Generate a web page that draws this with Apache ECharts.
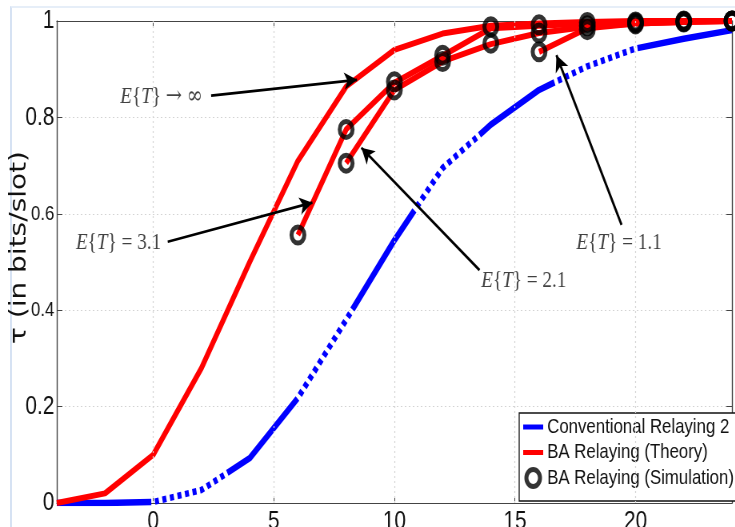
<!DOCTYPE html>
<html>
<head>
<meta charset="utf-8">
<script src="https://cdn.jsdelivr.net/npm/echarts@6/dist/echarts.min.js"></script>
<style>
  html, body { margin: 0; padding: 0; background: #fff; overflow: hidden; }
  #frame { position: absolute; left: 10px; top: 6px; width: 740px; height: 530px;
           border-left: 2px solid #d6e2f3; border-top: 2px solid #e6eef8; }
  #chart { position: absolute; left: 0; top: 0; width: 919px; height: 527px;
           transform: scaleX(0.8); transform-origin: 0 0; }
</style>
</head>
<body>
<div id="frame"></div>
<div id="chart"></div>
<script>
// ---------------- data ----------------
const snr = [-4, -2, 0, 2, 4, 6, 8, 10, 12, 14, 16, 18, 20, 22, 24];
const conventional = [0, 0, 0.002, 0.027, 0.093, 0.218, 0.38, 0.545, 0.695, 0.785, 0.857, 0.906, 0.943, 0.963, 0.981];
const baInfTheory = [0, 0.02, 0.10, 0.28, 0.50, 0.71, 0.864, 0.94, 0.974, 0.99, 0.995, 0.998, 1, 1, 1];

const ba31X = [6, 8, 10, 12, 14, 16, 18, 20, 22, 24];
const ba31Theory = [0.556, 0.775, 0.872, 0.928, 0.985, 0.99, 0.995, 0.998, 1, 1];
const ba31Sim = [0.556, 0.775, 0.874, 0.929, 0.988, 0.992, 0.997, 0.998, 1, 1];

const ba21X = [8, 10, 12, 14, 16, 18, 20, 22, 24];
const ba21Theory = [0.705, 0.857, 0.916, 0.952, 0.975, 0.988, 0.995, 0.998, 1];
const ba21Sim = [0.705, 0.857, 0.916, 0.954, 0.975, 0.99, 0.996, 0.999, 1];

const ba11X = [16, 18, 20, 22, 24];
const ba11Theory = [0.936, 0.985, 0.995, 0.998, 1];
const ba11Sim = [0.936, 0.982, 0.994, 0.998, 1];

const xTickValues = [0, 5, 10, 15, 20];
const yTicksBesideTitle = [0.4, 0.6];   // tick labels drawn smaller, next to the axis title

const seriesNames = ['Conventional Relaying 2', 'BA Relaying (Theory)', 'BA Relaying (Simulation)'];
const yAxisName = 'τ (in bits/slot)';

// annotations: label text, label anchor, arrow start, arrow tip (data coords)
const annLabels = ['{i|E}{{i|T}} {a|→} {a|∞}', '{i|E}{{i|T}} = 3.1', '{i|E}{{i|T}} = 2.1', '{i|E}{{i|T}} = 1.1'];
const annSide = ['left', 'left', 'right', 'right'];
const annAnchor = [[2.05, 0.842], [0.33, 0.54], [13.6, 0.462], [17.55, 0.541]];
const annFrom = [[2.4, 0.845], [0.6, 0.542], [13.53, 0.483], [19.42, 0.577]];
const annTo = [[8.45, 0.878], [6.6, 0.623], [8.63, 0.737], [16.72, 0.929]];

// style: x positions where the blue line switches between solid and square-dotted
const blueStyleBreaks = [-0.08, 3.07, 5.98, 8.26, 10.83, 13.53, 16.64, 20.08];

// ---------------- helpers ----------------
const pairs = (xs, ys) => xs.map((x, i) => [x, ys[i]]);

const RED = '#ff0000';
const BLUE = '#0000ff';
const sans = "'Liberation Sans', Arial, sans-serif";
const serif = "'Liberation Serif', 'Times New Roman', serif";
const linePath = 'path://M0,0h25v5h-25z';

const redLine = (data) => ({
  name: seriesNames[1], type: 'line', data, symbol: 'none', z: 3,
  lineStyle: { color: RED, width: 6 }, itemStyle: { color: RED }
});

const simStyle = { color: 'rgba(0,0,0,0)', borderColor: '#000', borderWidth: 5 };

const yLabelFmt = (v) => {
  const s = String(Math.round(v * 10) / 10);
  return yTicksBesideTitle.some(t => Math.abs(t - v) < 1e-9) ? '{n|' + s + '}' : s;
};

const chart = echarts.init(document.getElementById('chart'));
chart.setOption({
  backgroundColor: 'transparent',
  animation: false,
  grid: [
    { left: 71, right: 4, top: 21, bottom: 24, containLabel: false, outerBoundsMode: 'none' },
    // helper grid only used to place the y-axis title a little above the plot's middle
    { left: 71, right: 4, top: 21, bottom: 53, containLabel: false, outerBoundsMode: 'none' }
  ],
  xAxis: [{
    type: 'value', min: -4, max: 24,
    axisLine: { show: true, onZero: false, lineStyle: { color: '#444', width: 1.2 } },
    axisTick: { show: true, inside: true, length: 6, customValues: xTickValues, lineStyle: { color: '#444' } },
    axisLabel: { customValues: xTickValues, color: '#111', fontSize: 26, fontFamily: sans, margin: 6 },
    splitLine: { show: false }
  }, {
    type: 'value', min: -4, max: 24, position: 'top',
    axisLine: { show: true, onZero: false, lineStyle: { color: '#444', width: 1.2 } },
    axisTick: { show: true, inside: true, length: 6, customValues: xTickValues, lineStyle: { color: '#444' } },
    axisLabel: { show: false }, splitLine: { show: false }
  }, {
    type: 'value', gridIndex: 1, show: false, min: 0, max: 1
  }],
  yAxis: [{
    type: 'value', min: 0, max: 1, interval: 0.2,
    axisLine: { show: true, onZero: false, lineStyle: { color: '#444', width: 1.4 } },
    axisTick: { show: true, inside: true, length: 7, lineStyle: { color: '#444' } },
    axisLabel: { color: '#111', fontSize: 26, fontFamily: sans, margin: 3, formatter: yLabelFmt,
                 rich: { n: { fontSize: 21, fontFamily: sans, color: '#111' } } },
    splitLine: { show: true, lineStyle: { color: '#d4d4d4', width: 1, type: [2, 3] } }
  }, {
    type: 'value', min: 0, max: 1, interval: 0.2, position: 'right',
    axisLine: { show: true, onZero: false, lineStyle: { color: '#444', width: 1.4 } },
    axisTick: { show: true, inside: true, length: 7, lineStyle: { color: '#444' } },
    axisLabel: { show: false }, splitLine: { show: false }
  }, {
    type: 'value', gridIndex: 1, min: 0, max: 1, position: 'left',
    name: yAxisName, nameLocation: 'middle', nameGap: 32, nameRotate: 90, nameMoveOverlap: false,
    nameTextStyle: { color: '#111', fontSize: 28, fontFamily: "'DejaVu Sans', sans-serif" },
    axisLine: { show: false }, axisTick: { show: false }, axisLabel: { show: false }, splitLine: { show: false }
  }],
  legend: {
    data: [
      { name: seriesNames[0], icon: linePath },
      { name: seriesNames[1], icon: linePath },
      { name: seriesNames[2], icon: 'circle', itemStyle: simStyle }
    ],
    orient: 'vertical', left: 649, top: 413,
    itemWidth: 25, itemHeight: 17, itemGap: 3.5,
    padding: [3, 40, 12, 5],
    backgroundColor: '#fff', borderColor: '#111', borderWidth: 1.3,
    textStyle: { color: '#111', fontSize: 21, lineHeight: 22, fontFamily: sans },
    selectedMode: false
  },
  series: [
    {
      name: '__grid', type: 'line', data: [], silent: true, z: 1,
      markLine: {
        silent: true, symbol: 'none', animation: false,
        label: { show: false },
        lineStyle: { color: '#d4d4d4', width: 1.2, type: [2, 3] },
        data: xTickValues.map(v => ({ xAxis: v }))
      }
    },
    {
      name: seriesNames[0], type: 'line', data: pairs(snr, conventional), symbol: 'none', z: 2,
      lineStyle: { color: BLUE, width: 6.5, cap: 'butt' },
      itemStyle: { color: BLUE }
    },
    redLine(pairs(snr, baInfTheory)),
    redLine(pairs(ba31X, ba31Theory)),
    redLine(pairs(ba21X, ba21Theory)),
    redLine(pairs(ba11X, ba11Theory)),
    {
      name: seriesNames[2], type: 'scatter', z: 5, clip: false,
      symbol: 'circle', symbolSize: 16,
      itemStyle: simStyle,
      data: [].concat(pairs(ba31X, ba31Sim), pairs(ba21X, ba21Sim), pairs(ba11X, ba11Sim))
    },
    {
      name: '__ann', type: 'scatter', z: 6, silent: true, symbolSize: 0,
      data: annAnchor.map((p, i) => ({
        value: p,
        label: {
          show: true, position: annSide[i], distance: 0,
          formatter: annLabels[i], color: '#111', fontSize: 24, fontFamily: serif,
          rich: {
            i: { fontStyle: 'italic', fontSize: 24, fontFamily: serif, color: '#111' },
            a: { fontSize: 24, fontFamily: "'DejaVu Serif', serif", color: '#111' }
          }
        }
      })),
      markLine: {
        silent: true, animation: false, symbol: ['none', 'arrow'], symbolSize: [13, 16],
        label: { show: false },
        lineStyle: { color: '#000', width: 2.8, type: 'solid' },
        itemStyle: { color: '#000' },
        data: annFrom.map((p, i) => [{ coord: p }, { coord: annTo[i] }])
      }
    }
  ]
});

// build the blue solid / square-dot pattern from the drawn path
(function () {
  const pts = snr.map((x, i) => chart.convertToPixel({ seriesIndex: 1 }, [x, conventional[i]]));
  function lenAt(xv) {
    let acc = 0;
    for (let i = 1; i < pts.length; i++) {
      const x0 = snr[i - 1], x1 = snr[i];
      const dx = pts[i][0] - pts[i - 1][0], dy = pts[i][1] - pts[i - 1][1];
      const L = Math.hypot(dx, dy);
      if (xv <= x1) return acc + L * Math.max(0, (xv - x0) / (x1 - x0));
      acc += L;
    }
    return acc;
  }
  const cuts = [0].concat(blueStyleBreaks.map(lenAt));
  const dash = [];
  const d = 5, g = 4.5;
  for (let i = 1; i < cuts.length; i++) {
    const run = cuts[i] - cuts[i - 1];
    if ((i - 1) % 2 === 0) {
      dash.push(run);
    } else {
      const m = Math.max(1, Math.round((run - g) / (d + g)));
      const k = run / (g + m * (d + g));
      dash.push(g * k);
      for (let j = 0; j < m; j++) dash.push(d * k, g * k);
    }
  }
  dash.push(5000, 10);
  chart.setOption({ series: [{}, { lineStyle: { type: dash } }] });
})();
</script>
</body>
</html>
